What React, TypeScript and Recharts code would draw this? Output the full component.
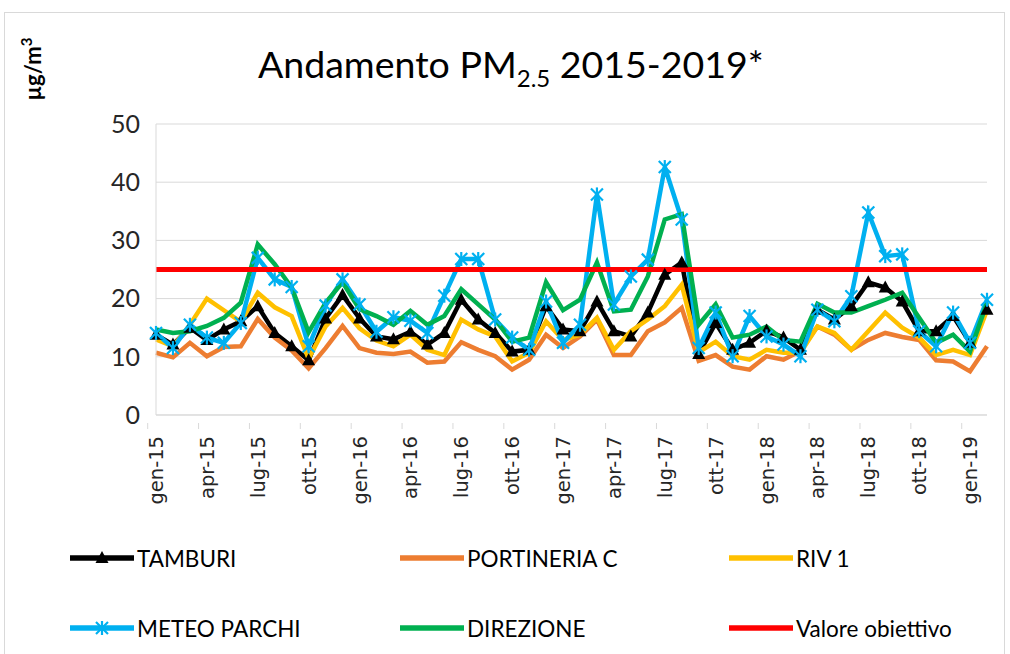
import React from 'react';
import { CartesianGrid, Legend, Line, LineChart, XAxis, YAxis } from 'recharts';

const months = [
  'gen-15', 'feb-15', 'mar-15', 'apr-15', 'mag-15', 'giu-15', 'lug-15', 'ago-15', 'set-15', 'ott-15', 'nov-15', 'dic-15',
  'gen-16', 'feb-16', 'mar-16', 'apr-16', 'mag-16', 'giu-16', 'lug-16', 'ago-16', 'set-16', 'ott-16', 'nov-16', 'dic-16',
  'gen-17', 'feb-17', 'mar-17', 'apr-17', 'mag-17', 'giu-17', 'lug-17', 'ago-17', 'set-17', 'ott-17', 'nov-17', 'dic-17',
  'gen-18', 'feb-18', 'mar-18', 'apr-18', 'mag-18', 'giu-18', 'lug-18', 'ago-18', 'set-18', 'ott-18', 'nov-18', 'dic-18',
  'gen-19', 'feb-19',
];

const tamburi = [
  13.8, 12.1, 15, 12.9, 14.7, 16.1, 18.7, 14.1, 11.8, 9.4, 16.6, 20.6,
  16.6, 13.5, 13, 14.3, 12.1, 14.1, 19.8, 16.4, 14.1, 10.9, 11.2, 18.7,
  14.7, 14.4, 19.5, 14.4, 13.5, 17.6, 24.1, 26.2, 10.5, 15.8, 11.2, 12.4,
  14.5, 13.3, 11.2, 18.1, 16.4, 18.7, 22.8, 21.9, 19.5, 14.4, 14.4, 17,
  12.4, 18.1,
];
const portineria = [
  10.7, 9.9, 12.4, 10.1, 11.7, 11.8, 16.5, 13.3, 11.1, 8.0, 11.5, 15.3,
  11.5, 10.7, 10.5, 10.9, 9.0, 9.2, 12.5, 11.2, 10.1, 7.8, 9.5, 13.8,
  11.5, 13.5, 16.4, 10.3, 10.3, 14.4, 15.9, 18.4, 9.3, 10.3, 8.3, 7.8,
  10.1, 9.5, 11, 15.2, 13.8, 11.2, 12.9, 14.1, 13.4, 12.9, 9.4, 9.2,
  7.5, 11.8,
];
const riv1 = [
  13, 11.8, 15.5, 20, 18, 16, 21, 18.5, 17, 9.7, 15.2, 18.4,
  14.9, 12.8, 11.8, 13.8, 11.2, 10.3, 16.4, 14.7, 13.5, 9.2, 10.7, 16.1,
  12.9, 13.8, 16.7, 11.2, 14.4, 16.4, 18.7, 22.4, 10.8, 12.6, 10.1, 9.5,
  11.2, 10.7, 10.7, 15.2, 14.1, 11.2, 14.4, 17.6, 15, 13.3, 10.3, 11.2,
  10.3, 18,
];
const meteoParchi = [
  14.1, 11.5, 15.5, 13.3, 12.4, 15.8, 27, 23.3, 22, 11.8, 18.8, 23.3,
  19, 14.3, 16.8, 16.2, 14.1, 20.5, 26.8, 26.8, 16.4, 13.3, 11.2, 19.5,
  12.4, 15.5, 37.9, 19, 23.8, 26.7, 42.6, 33.6, 11.5, 17.6, 10.1, 17,
  13.5, 12.1, 10.1, 18.1, 16.1, 20.4, 34.8, 27.3, 27.6, 14.4, 11.8, 17.6,
  12.4, 19.8,
];
const direzione = [
  14.7, 14.1, 14.4, 15.3, 16.7, 19.3, 29.3, 25.9, 21.9, 14.2, 19.3, 22.8,
  18.2, 17, 15.5, 17.9, 15.5, 17, 21.6, 19, 16.4, 12.6, 13.3, 22.8,
  18, 19.8, 26.2, 17.8, 18.1, 23.8, 33.6, 34.5, 15.5, 19, 13.3, 13.8,
  15.2, 12.9, 12.6, 19.1, 17.6, 17.6, 18.7, 19.8, 21, 16.7, 12.4, 13.8,
  10.9, 19.3,
];
const valoreObiettivo = [
  25, 25, 25, 25, 25, 25, 25, 25, 25, 25, 25, 25,
  25, 25, 25, 25, 25, 25, 25, 25, 25, 25, 25, 25,
  25, 25, 25, 25, 25, 25, 25, 25, 25, 25, 25, 25,
  25, 25, 25, 25, 25, 25, 25, 25, 25, 25, 25, 25,
  25, 25,
];
const yTicks = [0, 10, 20, 30, 40, 50];

const data = months.map((m, i) => ({
  month: m,
  tamburi: tamburi[i],
  portineria: portineria[i],
  riv1: riv1[i],
  meteo: meteoParchi[i],
  direzione: direzione[i],
  obiettivo: valoreObiettivo[i],
}));

const series = [
  { key: 'tamburi', name: 'TAMBURI', color: '#000000', marker: 'tri', width: 4.5 },
  { key: 'portineria', name: 'PORTINERIA C', color: '#ED7D31', marker: null, width: 4.5 },
  { key: 'riv1', name: 'RIV 1', color: '#FFC000', marker: null, width: 4.5 },
  { key: 'meteo', name: 'METEO PARCHI', color: '#00B0F0', marker: 'ast', width: 4.5 },
  { key: 'direzione', name: 'DIREZIONE', color: '#00B050', marker: null, width: 4.5 },
  { key: 'obiettivo', name: 'Valore obiettivo', color: '#FF0000', marker: null, width: 5 },
];

const W = 1010;
const H = 654;
const M = { top: 124, right: 23, bottom: 139, left: 0 };
const Y_W = 156;
const HALF_BAND = (W - M.left - M.right - Y_W) / months.length / 2;
const FONT = "Lato, 'Open Sans', sans-serif";

function Marker({ type, cx, cy, color }: { type: string | null; cx: number; cy: number; color: string }) {
  if (type === 'tri') {
    return <path d={`M${cx},${cy - 7} L${cx + 6.5},${cy + 5} L${cx - 6.5},${cy + 5} Z`} fill={color} />;
  }
  if (type === 'ast') {
    return (
      <g stroke={color} strokeWidth={2.2}>
        <line x1={cx} y1={cy - 7} x2={cx} y2={cy + 7} />
        <line x1={cx - 6} y1={cy - 6} x2={cx + 6} y2={cy + 6} />
        <line x1={cx - 6} y1={cy + 6} x2={cx + 6} y2={cy - 6} />
      </g>
    );
  }
  return null;
}

const makeDot = (type: string | null, color: string) => (props: any) => {
  const { cx, cy, index } = props;
  if (cx == null || cy == null) return <g key={index} />;
  return (
    <g key={index}>
      <Marker type={type} cx={cx} cy={cy} color={color} />
    </g>
  );
};

const MonthTick = (props: any) => {
  const { x, y, payload } = props;
  return (
    <g>
      <line x1={x - HALF_BAND} y1={y} x2={x - HALF_BAND} y2={y + 6} stroke="#d9d9d9" />
      <text
        x={x}
        y={y}
        transform={`rotate(-90, ${x}, ${y})`}
        dx={-13}
        dy="0.36em"
        textAnchor="end"
        fontSize={19.5}
        fontFamily="'DejaVu Sans', sans-serif"
        fill="#262626"
      >
        {payload.value}
      </text>
    </g>
  );
};

const UnitLabel = () => (
  <text
    x={41}
    y={69}
    transform="rotate(-90, 41, 69)"
    textAnchor="middle"
    fontSize={22}
    fontWeight="bold"
    fontFamily={FONT}
    fill="#000"
  >
    µg/m
    <tspan dy={-9} fontSize={15}>3</tspan>
  </text>
);

const legendCols = [70, 400, 729];
const legendRows = [8, 78];

const renderLegend = () => (
  <div style={{ position: 'relative', width: W, height: 120, fontFamily: FONT }}>
    {series.map((s, i) => (
      <div
        key={s.key}
        style={{
          position: 'absolute',
          left: legendCols[i % 3],
          top: legendRows[Math.floor(i / 3)],
          display: 'flex',
          alignItems: 'center',
          height: 30,
        }}
      >
        <svg width={64} height={20}>
          <line x1={0} y1={10} x2={64} y2={10} stroke={s.color} strokeWidth={5.5} />
          <Marker type={s.marker} cx={32} cy={10} color={s.color} />
        </svg>
        <span style={{ marginLeft: 3, fontSize: 22.5, color: '#000', whiteSpace: 'nowrap' }}>{s.name}</span>
      </div>
    ))}
  </div>
);

export default function App() {
  return (
    <div style={{ position: 'absolute', left: 0, top: 0, width: W, height: H, background: '#fff', overflow: 'hidden' }}>
      <div
        style={{
          position: 'absolute',
          left: 4,
          top: 12,
          width: 999,
          height: 700,
          border: '1px solid #d9d9d9',
        }}
      />
      <div
        style={{
          position: 'absolute',
          left: 258,
          top: 42,
          fontFamily: FONT,
          fontSize: 37.5,
          color: '#000',
          whiteSpace: 'nowrap',
          lineHeight: '44px',
        }}
      >
        Andamento PM<span style={{ fontSize: 24, position: 'relative', top: 9 }}>2.5</span> 2015-2019*
      </div>
      <LineChart width={W} height={H} data={data} margin={M}>
        <CartesianGrid vertical={false} stroke="#d9d9d9" />
        <XAxis
          dataKey="month"
          interval={2}
          height={100}
          tickLine={false}
          axisLine={{ stroke: '#d9d9d9' }}
          tick={<MonthTick />}
        />
        <YAxis
          width={Y_W}
          domain={[0, 50]}
          ticks={yTicks}
          tickLine={false}
          tickSize={6}
          tickMargin={10}
          axisLine={{ stroke: '#d9d9d9' }}
          tick={{ fontSize: 25, fill: '#262626', fontFamily: FONT }}
          label={{ content: <UnitLabel /> }}
        />
        <YAxis
          yAxisId="r"
          orientation="right"
          width={0}
          domain={[0, 50]}
          tick={false}
          tickLine={false}
          axisLine={{ stroke: '#d9d9d9' }}
        />
        <Legend
          layout="horizontal"
          verticalAlign="middle"
          align="center"
          wrapperStyle={{ top: 535, left: 0, width: W }}
          content={renderLegend}
        />
        {series.map((s) => (
          <Line
            key={s.key}
            type="linear"
            dataKey={s.key}
            name={s.name}
            stroke={s.color}
            strokeWidth={s.width}
            dot={s.marker ? makeDot(s.marker, s.color) : false}
            activeDot={false}
            isAnimationActive={false}
          />
        ))}
      </LineChart>
    </div>
  );
}
